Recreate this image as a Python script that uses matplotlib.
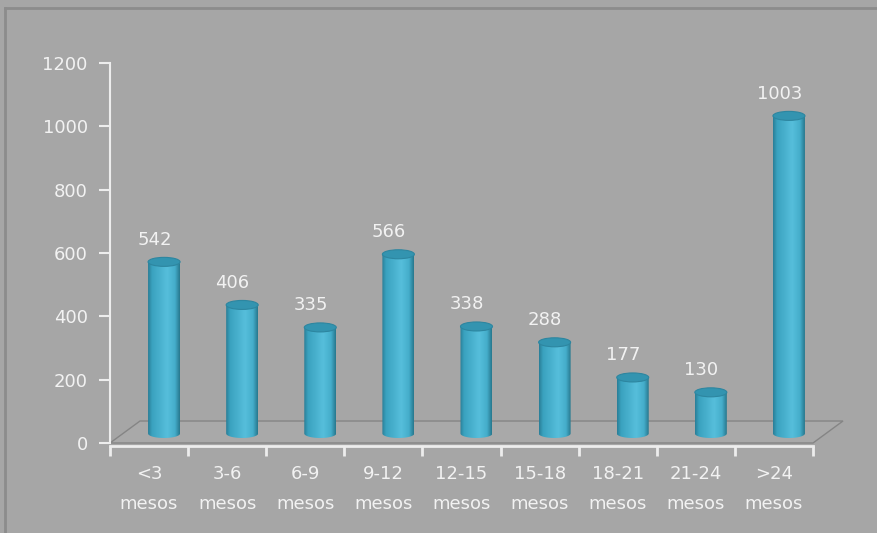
import numpy as np
import matplotlib
matplotlib.use("Agg")
import matplotlib.pyplot as plt
from matplotlib.path import Path
from matplotlib.patches import PathPatch, Ellipse, Polygon
from matplotlib.colors import LinearSegmentedColormap
from matplotlib.lines import Line2D

categories = ["<3\nmesos", "3-6\nmesos", "6-9\nmesos", "9-12\nmesos", "12-15\nmesos",
              "15-18\nmesos", "18-21\nmesos", "21-24\nmesos", ">24\nmesos"]
values = [542, 406, 335, 566, 338, 288, 177, 130, 1003]
yticks = [0, 200, 400, 600, 800, 1000, 1200]

BG = "#a6a6a6"
TXT = "#f2f2f2"
FS = 13
plt.rcParams['font.family'] = ['DejaVu Sans']

fig = plt.figure(figsize=(8.77, 5.33), dpi=100, facecolor=BG)
W, H = 877, 533
ax = fig.add_axes([110 / W, (H - 443) / H, (813 - 110) / W, (443 - 63) / H])
ax.set_facecolor("none")
ax.set_xlim(0, len(values))
ax.set_ylim(0, 1200)

# pixel -> data scale
px_x = len(values) / (813 - 110)
px_y = 1200 / (443 - 63)

# 3d floor
fdx, fdy = 30 * px_x, 22 * px_y
n = len(values)
floor = Polygon([[0, 0], [n, 0], [n + fdx, fdy], [fdx, fdy]], closed=True,
                facecolor="#a9a9a9", edgecolor="#858585", lw=1.0, clip_on=False, zorder=1)
ax.add_patch(floor)

cmap = LinearSegmentedColormap.from_list(
    "cyl", [(0, "#2a7f98"), (0.12, "#3aa2bf"), (0.6, "#56bedb"), (0.85, "#45aecb"), (1, "#28798f")])
grad = cmap(np.linspace(0, 1, 64))[None, :, :]

bw = 32 * px_x
eh = 9 * px_y
bdx, bdy = 15 * px_x, 30
for i, v in enumerate(values):
    xc = i + 0.5 + bdx
    base = bdy
    top = v + bdy
    t = np.linspace(np.pi, 2 * np.pi, 40)
    pts = [[xc - bw / 2, top], [xc - bw / 2, base]]
    pts += [[xc + bw / 2 * np.cos(a), base + eh / 2 * np.sin(a)] for a in t]
    pts += [[xc + bw / 2, top], [xc - bw / 2, top]]
    body = PathPatch(Path(pts, closed=True), facecolor="none", edgecolor="none")
    ax.add_patch(body)
    im = ax.imshow(grad, extent=[xc - bw / 2, xc + bw / 2, base - eh, top], aspect="auto",
                   interpolation="bilinear", zorder=3)
    im.set_clip_path(body)
    ax.add_patch(Ellipse((xc, top), bw, eh, facecolor="#3394b0", edgecolor="#2d86a0",
                         lw=0.8, zorder=4))
    ax.annotate(str(v), (xc, top), xytext=(-7, 16), textcoords="offset points",
                ha="center", va="center", color=TXT, fontsize=FS, zorder=5)

ax.set_xlim(0, n)
ax.set_ylim(0, 1200)

for s in ["top", "right"]:
    ax.spines[s].set_visible(False)
ax.spines["left"].set_color("#ededed")
ax.spines["left"].set_linewidth(1.5)
ax.spines["left"].set_bounds(0, 1200)
ax.spines["bottom"].set_color("#ededed")
ax.spines["bottom"].set_linewidth(2)
ax.spines["bottom"].set_position(("outward", 2))

ax.set_yticks(yticks)
ax.set_yticklabels([str(y) for y in yticks])
ax.tick_params(axis="y", colors="#ededed", labelcolor=TXT, length=8, width=1.5,
               pad=8, labelsize=FS)

ax.set_xticks(np.arange(n + 1))
ax.set_xticklabels([])
ax.set_xticks(np.arange(n) + 0.5, minor=True)
ax.set_xticklabels(categories, minor=True)
ax.tick_params(axis="x", which="major", colors="#ededed", length=7, width=2, direction="out")
ax.tick_params(axis="x", which="minor", length=0, pad=14, labelcolor=TXT, labelsize=FS)
for lab in ax.get_xticklabels(minor=True):
    lab.set_linespacing(1.85)

# outer frame of the chart area
fig.add_artist(Line2D([5 / W, 5 / W], [0, 1 - 8 / H], color="#8c8c8c", lw=2))
fig.add_artist(Line2D([5 / W, 1], [1 - 8 / H, 1 - 8 / H], color="#8c8c8c", lw=2))

fig.savefig("out.png", dpi=100, facecolor=BG)
